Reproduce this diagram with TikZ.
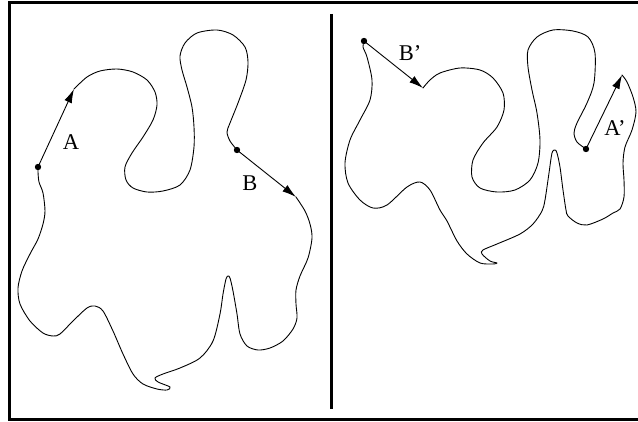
\documentclass[tikz,border=0pt]{standalone}
\usepackage{fontspec}
\setmainfont{Liberation Serif}
\usetikzlibrary{arrows.meta}

\def\frameLeft{9.5}
\def\frameTop{2.5}
\def\frameBottom{419.5}
\def\midX{331.5}
\def\dotR{3.2pt}

\begin{document}
\begin{tikzpicture}[
    x=1pt, y=-1pt,
    >={Latex[length=14pt,width=8pt]},
    outline/.style ={line width=0.9pt, line join=round, line cap=round},
    jump/.style    ={->, line width=0.9pt},
    spot/.style    ={fill=black},
    tag/.style     ={font=\fontsize{22.5}{24}\selectfont, inner sep=0pt},
    frameline/.style={line width=3pt},
]
\useasboundingbox (0,0) rectangle (638,422);
\clip (0,0) rectangle (638,422);

% =====================================================
% Frame and divider
% =====================================================
\draw[frameline] (\frameLeft,\frameTop) rectangle (650,\frameBottom);
\draw[line width=2.5pt] (\midX,14) -- (\midX,409);

% =====================================================
% LEFT PANEL: original outline
% =====================================================
\coordinate (dotA) at (38,167);
\coordinate (tipA) at (74,89);
\coordinate (dotB) at (237,150);
\coordinate (tipB) at (296,197);

% top lobes, from tip of A round to B
\draw[outline] plot[smooth] coordinates {
    (tipA) (87,77) (100,71) (117,69) (133,72) (147,80) (155,92) (157,105)
    (153,120) (143,137) (132,153) (125,167) (126,180) (133,188) (147,192)
    (163,191) (180,185) (190,170) (194,147) (194,127) (192,107) (187,87)
    (182,70) (180,56) (185,43) (197,33) (217,30) (233,35) (245,47) (248,62)
    (246,80) (238,103) (230,123) (227,132) (230,141) (dotB)};

% bottom part, from tip of B back round to A
\draw[outline] plot[smooth] coordinates {
    (tipB) (305,211) (310,224) (312,238) (308,258) (300,276) (296,290)
    (296,304) (297,318) (293,329) (283,341) (270,348) (258,350) (247,346)
    (240,334) (237,314) (233,291) (230,278) (228,276) (226,279) (223,294)
    (220,314) (213,341) (200,358) (180,368) (163,374) (155,378) (158,382)
    (170,387) (167,390) (157,389) (143,384) (133,374) (123,354) (113,331)
    (103,311) (95,306) (87,308) (73,321) (60,334) (53,336) (43,333) (30,321)
    (20,304) (18,288) (22,271) (30,254) (38,239) (43,224) (45,211) (43,193)
    (39,182) (38,172) (dotA)};

\draw[jump] (dotA) -- (tipA);
\draw[jump] (dotB) -- (tipB);
\fill[spot] (dotA) circle (\dotR);
\fill[spot] (dotB) circle (\dotR);

\node[tag] (labA) at (71,142) {A};
\node[tag] (labB) at (250,183) {B};

% =====================================================
% RIGHT PANEL: rearranged outline
% =====================================================
\coordinate (dotBp) at (364,41);
\coordinate (tipBp) at (423,88);
\coordinate (dotAp) at (586,149);
\coordinate (tipAp) at (622,75);

% upper part, from tip of B' round to A'
\draw[outline] plot[smooth] coordinates {
    (tipBp) (430,80) (440,73) (460,68) (480,70) (493,78) (503,93) (504,110)
    (497,127) (483,143) (473,160) (472,177) (480,188) (497,192) (515,190)
    (530,180) (538,163) (540,140) (537,113) (532,90) (528,67) (528,50)
    (537,37) (553,30) (573,31) (588,37) (595,53) (594,83) (587,103)
    (577,123) (574,133) (577,142) (dotAp)};

% lower part, from tip of A' back round to B'
\draw[outline] plot[smooth] coordinates {
    (tipAp) (627,82) (633,97) (636,112) (632,130) (625,147) (623,163)
    (624,180) (624,197) (620,209) (613,213) (603,219) (587,225) (577,223)
    (568,216) (566,210) (563,190) (560,167) (557,153) (555,150) (552,153)
    (549,173) (545,200) (542,211) (533,224) (520,234) (497,244) (483,250)
    (482,254) (490,261) (497,263) (493,264) (480,263) (467,254) (457,241)
    (447,221) (440,210) (430,190) (420,182) (407,187) (387,205) (373,208)
    (360,200) (348,183) (345,163) (350,140) (360,120) (370,100) (372,80)
    (367,57) (363,47) (dotBp)};

\draw[jump] (dotBp) -- (tipBp);
\draw[jump] (dotAp) -- (tipAp);
\fill[spot] (dotBp) circle (\dotR);
\fill[spot] (dotAp) circle (\dotR);

\node[tag] (labBp) at (410,53) {B'};
\node[tag] (labAp) at (615,128) {A'};

\end{tikzpicture}
\end{document}
